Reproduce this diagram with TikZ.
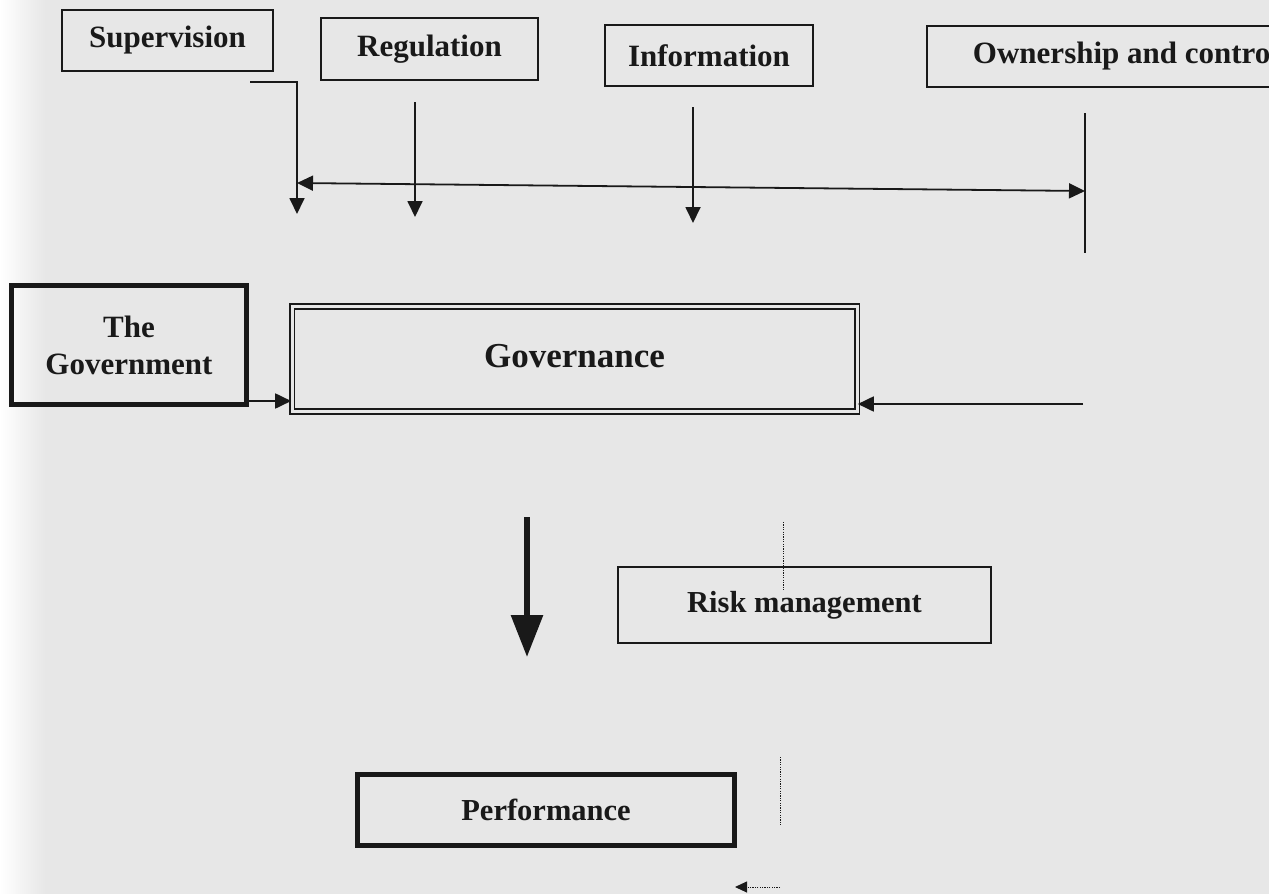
\documentclass[tikz,border=0pt]{standalone}
\usepackage{fontspec}
\setmainfont{Liberation Serif}
\usetikzlibrary{arrows.meta}
\definecolor{bg}{RGB}{231,231,231}
\definecolor{ink}{RGB}{25,25,25}
\begin{document}
\begin{tikzpicture}[x=1pt,y=-1pt,
  box/.style={draw=ink, line width=2pt, inner sep=0pt, text=ink,
    font=\fontsize{31}{37}\selectfont\bfseries},
  thickbox/.style={box, line width=5pt},
  dblbox/.style={box, double=bg, double distance=3pt, line width=1.6pt,
    font=\fontsize{35}{40}\selectfont\bfseries},
  conn/.style={draw=ink, line width=1.8pt},
  arr/.style={conn, -{Triangle[length=16pt,width=15pt]}},
  dbl/.style={conn, {Triangle[length=16pt,width=15pt]}-{Triangle[length=16pt,width=15pt]}},
  bigarr/.style={draw=ink, line width=6pt, -{Triangle[length=42pt,width=31pt]}},
  dots/.style={draw=ink, line width=1pt, dash pattern=on 1.2pt off 1.2pt},
  dotarr/.style={dots, -{Triangle[length=12pt,width=11pt]}}]
\useasboundingbox (0,0) rectangle (1269,894);
\fill[bg] (0,0) rectangle (1269,894);
\shade[left color=white, right color=bg] (0,0) rectangle (45,894);
\clip (0,0) rectangle (1269,894);

% top row
\node[box, minimum width=211pt, minimum height=61pt] (sup) at (167.5,40) {\raisebox{-2pt}{Supervision}};
\node[box, minimum width=217pt, minimum height=62pt] (reg) at (429.5,49) {\raisebox{-3pt}{Regulation}};
\node[box, minimum width=208pt, minimum height=61pt] (inf) at (709,55.5) {Information};
\node[box, minimum width=398pt, minimum height=61pt] (own) at (1126,56.5) {\raisebox{-3pt}{Ownership and control}};

% middle row
\node[thickbox, minimum width=235pt, minimum height=119pt, align=center] (gov) at (129,345) {The\\Government};
\node[dblbox, minimum width=565pt, minimum height=105pt] (gvn) at (574.5,359) {\raisebox{7pt}{Governance}};

% lower boxes
\node[box, minimum width=373pt, minimum height=76pt, font=\fontsize{30.5}{36}\selectfont\bfseries] (risk) at (804.5,605) {Risk management};
\node[thickbox, minimum width=377pt, minimum height=71pt, font=\fontsize{30.5}{36}\selectfont\bfseries] (perf) at (546,810) {Performance};

% free coordinates
\coordinate (s1) at (250,82);
\coordinate (s2) at (297,82);
\coordinate (s3) at (297,214);
\coordinate (r1) at (415,102);
\coordinate (r2) at (415,217);
\coordinate (h1) at (297,183);
\coordinate (h2) at (1085,191);
\coordinate (i1) at (693,107);
\coordinate (i2) at (693,223);
\coordinate (o1) at (1085,113);
\coordinate (o2) at (1085,253);
\coordinate (e1) at (1083,404);
\coordinate (b1) at (527,517);
\coordinate (b2) at (527,657);
\coordinate (d1) at (783,522);
\coordinate (d2) at (783,590);
\coordinate (d3) at (780,757);
\coordinate (d4) at (780,825);
\coordinate (d5) at (780,887);
\coordinate (d6) at (735,887);

% connectors
\draw[arr] (s1) -- (s2) -- (s3);
\draw[arr] (r1) -- (r2);
\draw[dbl] (h1) -- (h2);
\draw[arr] (i1) -- (i2);
\draw[conn] (o1) -- (o2);
\draw[arr] (gov.east |- 0,401) -- (gvn.west |- 0,401);
\draw[arr] (e1) -- (gvn.east |- e1);
\draw[bigarr] (b1) -- (b2);
\draw[dots] (d1) -- (d2);
\draw[dots] (d3) -- (d4);
\draw[dotarr] (d5) -- (d6);
\end{tikzpicture}
\end{document}
